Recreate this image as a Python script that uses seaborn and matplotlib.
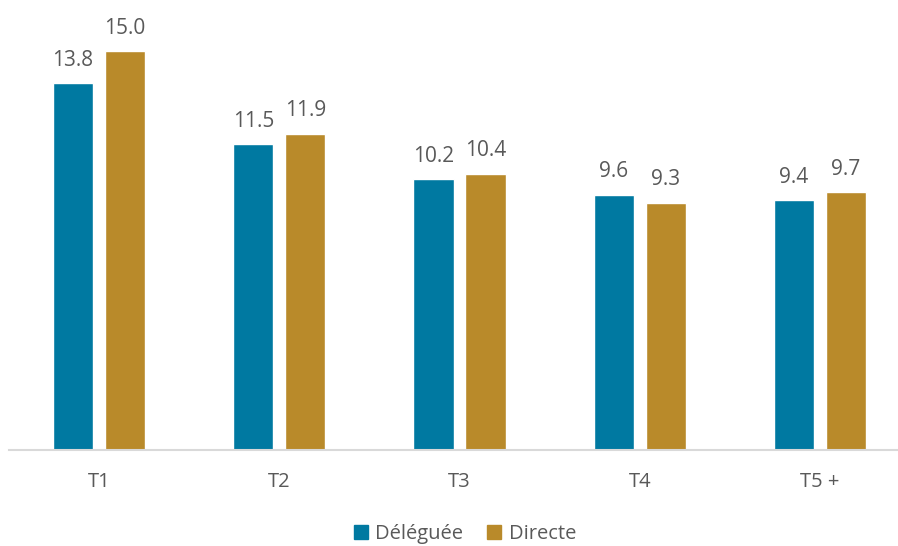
import matplotlib
matplotlib.use("Agg")
import matplotlib.pyplot as plt
import seaborn as sns
import pandas as pd

categories = ["T1", "T2", "T3", "T4", "T5 +"]
deleguee = [13.8, 11.5, 10.2, 9.6, 9.4]
directe = [15.0, 11.9, 10.4, 9.3, 9.7]
series_names = ["Déléguée", "Directe"]
colors = ["#0079A1", "#B98A2A"]

df = pd.DataFrame({
    "cat": categories * 2,
    "val": deleguee + directe,
    "serie": [series_names[0]] * len(categories) + [series_names[1]] * len(categories),
})

sns.set_theme(style="white")
plt.rcParams["font.family"] = ["Open Sans", "DejaVu Sans"]
text_color = "#595959"

W, H = 898, 546
fig = plt.figure(figsize=(W / 100, H / 100), dpi=100)
ax = fig.add_axes([9 / W, (H - 450) / H, 901 / W, 449 / H])

sns.barplot(data=df, x="cat", y="val", hue="serie", order=categories,
            hue_order=series_names, palette=colors, width=0.578, gap=0.23,
            saturation=1, ax=ax, legend=True)

for cont in ax.containers:
    ax.bar_label(cont, fmt="%.1f", padding=9, fontsize=15, color=text_color)

ax.set_ylim(0, 16.9)
ax.set_xlim(-0.5, 4.5)
ax.set_xlabel("")
ax.set_ylabel("")
ax.set_yticks([])
for s in ["top", "right", "left"]:
    ax.spines[s].set_visible(False)
ax.spines["bottom"].set_color("#D9D9D9")
ax.spines["bottom"].set_linewidth(1.5)
ax.tick_params(axis="x", length=0, pad=16, labelsize=14.5, labelcolor=text_color)

ax.legend_.remove()
handles = [plt.Rectangle((0, 0), 1, 1, color=c) for c in colors]
fig.legend(handles, series_names, loc="center", bbox_to_anchor=(465 / W, 1 - 534 / H),
           ncol=2, frameon=False, fontsize=14.5, labelcolor=text_color,
           handlelength=0.7, handleheight=0.7, handletextpad=0.35, columnspacing=1.2)

fig.savefig("out.png", dpi=100)
